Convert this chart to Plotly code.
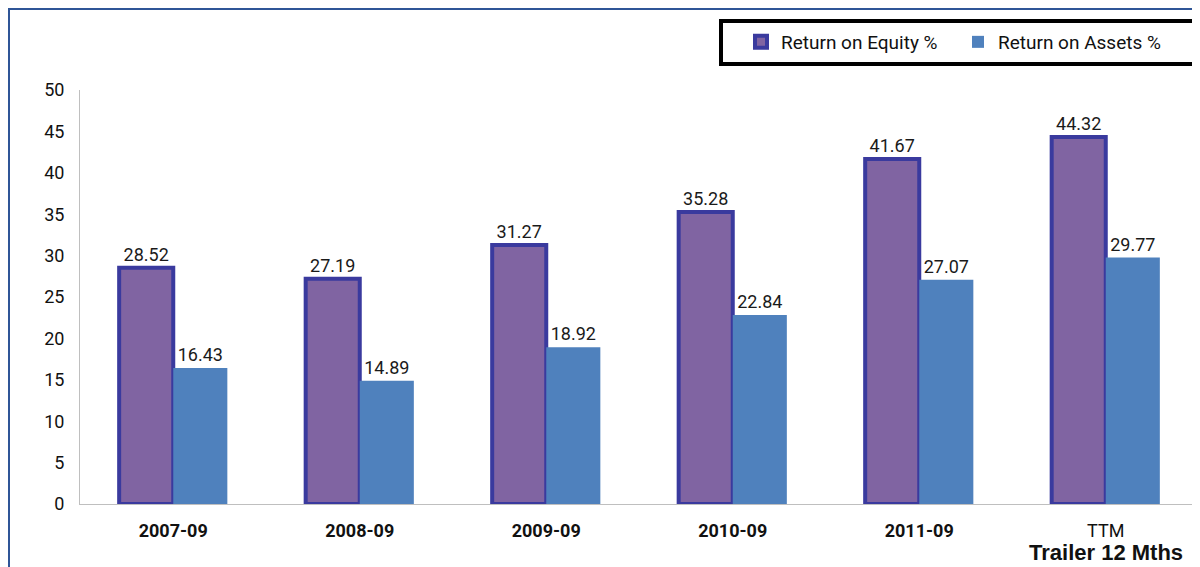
import plotly.graph_objects as go

categories = ["2007-09", "2008-09", "2009-09", "2010-09", "2011-09", "TTM"]
tick_labels = ["<b>2007-09</b>", "<b>2008-09</b>", "<b>2009-09</b>", "<b>2010-09</b>", "<b>2011-09</b>", "TTM"]
roe = [28.52, 27.19, 31.27, 35.28, 41.67, 44.32]
roa = [16.43, 14.89, 18.92, 22.84, 27.07, 29.77]
y_ticks = [0, 5, 10, 15, 20, 25, 30, 35, 40, 45, 50]

FONT = "Roboto, Liberation Sans, sans-serif"

# page body has an 8px margin: figure is 1192x559 placed at (8, 8)
OFF = 8
L, T = 80 - OFF, 90 - OFF
W, H = 1200 - OFF, 567 - OFF
PW, PH = 1119, 414  # plot area size in px


def px_x(px):
    return (px - 80) / PW


def px_y(py):
    return (504 - py) / PH


fig = go.Figure()
fig.add_trace(go.Bar(
    name="Return on Equity %", x=categories, y=roe,
    marker=dict(color="#8064A2", line=dict(color="#3A3A9E", width=4)),
    text=[f"{v:.2f}" for v in roe], textposition="outside", cliponaxis=False,
    textfont=dict(family=FONT, size=18, color="#1a1a1a"),
))
fig.add_trace(go.Bar(
    name="Return on Assets %", x=categories, y=roa,
    marker=dict(color="#4F81BD", line=dict(width=0)),
    text=[f"{v:.2f}" for v in roa], textposition="outside", cliponaxis=False,
    textfont=dict(family=FONT, size=18, color="#1a1a1a"),
))

fig.update_layout(
    width=W, height=H,
    margin=dict(l=L, r=W - L - PW, t=T, b=H - T - PH),
    paper_bgcolor="white", plot_bgcolor="white",
    barmode="group", bargap=0.42, bargroupgap=0,
    showlegend=True,
    legend=dict(orientation="h", x=px_x(741), y=px_y(42), xanchor="left", yanchor="middle",
                font=dict(family=FONT, size=19, color="#111"),
                bgcolor="rgba(0,0,0,0)", borderwidth=0,
                traceorder="normal", itemwidth=30, entrywidth=172),
    xaxis=dict(type="category", tickmode="array", tickvals=categories, ticktext=tick_labels,
               showline=True, linecolor="#BFBFBF", linewidth=1, ticks="",
               ticklabelstandoff=10,
               tickfont=dict(family=FONT, size=18, color="#111"), showgrid=False),
    yaxis=dict(range=[0, 50], tickvals=y_ticks, showline=True, linecolor="#BFBFBF",
               linewidth=1, ticks="", showgrid=False, zeroline=False,
               ticklabelstandoff=11,
               tickfont=dict(family=FONT, size=18, color="#111")),
    shapes=[
        dict(type="rect", xref="paper", yref="paper", x0=px_x(9), x1=px_x(1215), y0=px_y(9), y1=px_y(620),
             line=dict(color="#2F5597", width=2), fillcolor="rgba(0,0,0,0)", layer="below"),
        dict(type="rect", xref="paper", yref="paper", x0=px_x(721), x1=px_x(1194),
             y0=px_y(21), y1=px_y(64),
             line=dict(color="black", width=4), fillcolor="rgba(0,0,0,0)"),
    ],
    annotations=[
        dict(text="<b>Trailer 12 Mths</b>", x="TTM", xref="x", y=px_y(552), yref="paper",
             showarrow=False, font=dict(family="Liberation Sans, Arial, sans-serif", size=22, color="#111"),
             xanchor="center", yanchor="middle"),
    ],
)

fig.write_html("out.html")
